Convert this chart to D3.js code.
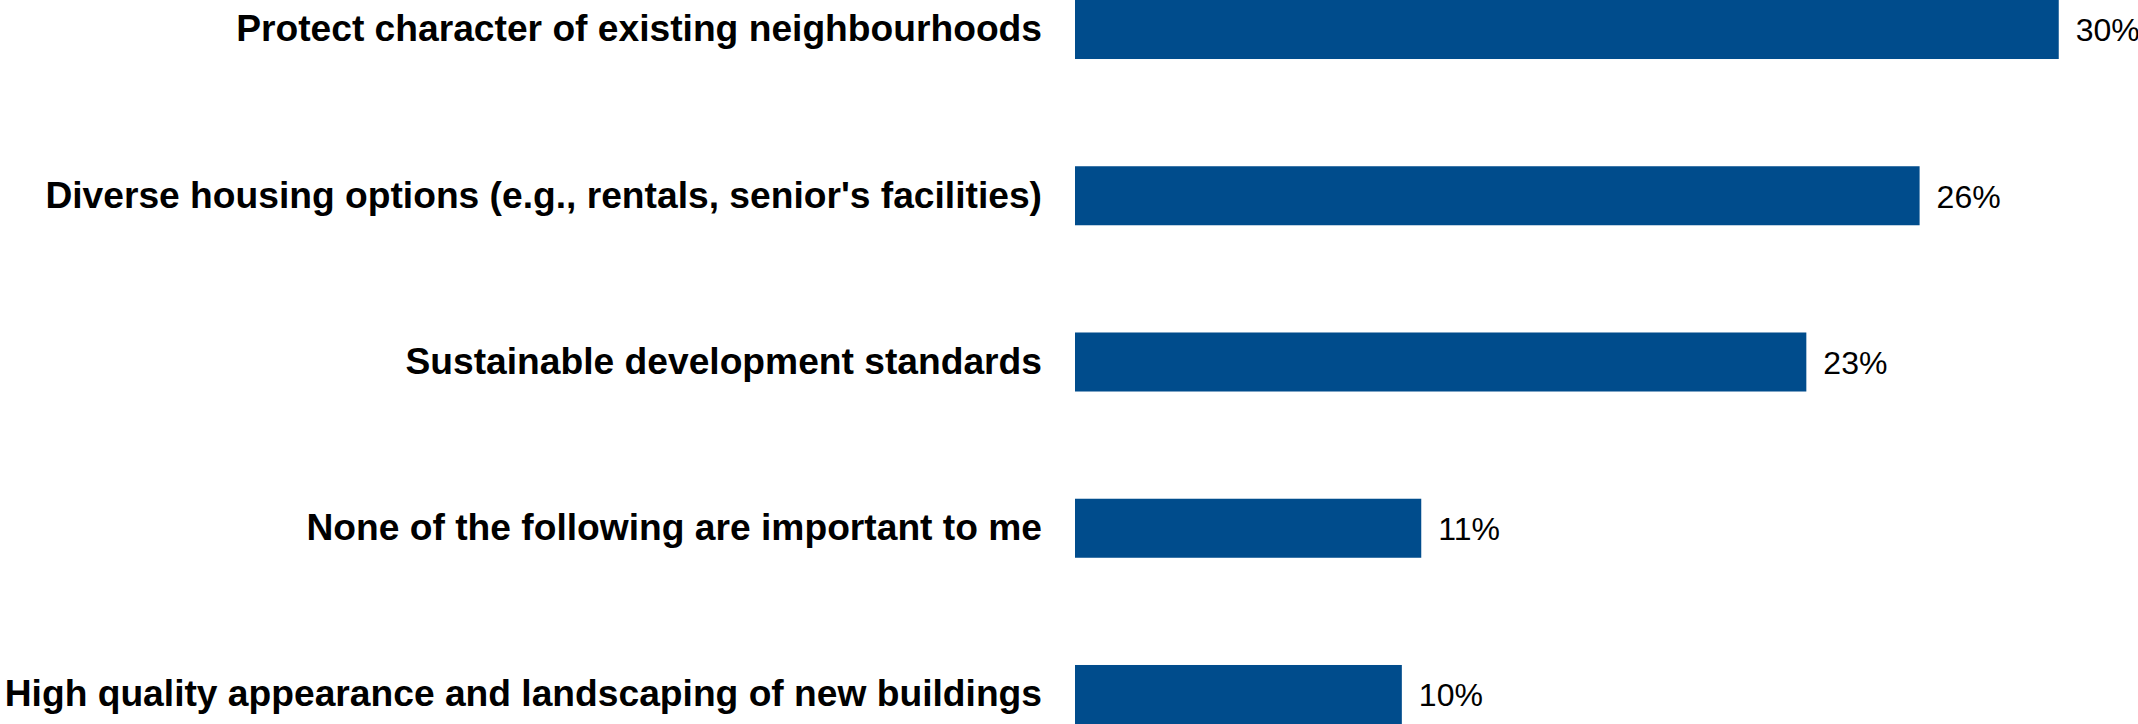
<!DOCTYPE html>
<html>
<head>
<meta charset="utf-8">
<script src="https://cdn.jsdelivr.net/npm/d3@7"></script>
<style>
  html, body { margin: 0; padding: 0; background: #fff; }
  svg { display: block; }
</style>
</head>
<body>
<script>
const categories = [
  "Protect character of existing neighbourhoods",
  "Diverse housing options (e.g., rentals, senior's facilities)",
  "Sustainable development standards",
  "None of the following are important to me",
  "High quality appearance and landscaping of new buildings"
];
const values = [30.4, 26.1, 22.6, 10.7, 10.1];
const valueLabels = ["30%", "26%", "23%", "11%", "10%"];

const W = 2138, H = 724;
const svg = d3.select("body").append("svg").attr("width", W).attr("height", H);

const x = d3.scaleLinear().domain([0, 35]).range([1075, 1075 + 35 * 32.36]);
const y = d3.scaleBand().domain(categories).range([0, H]).paddingInner(0.645).paddingOuter(0);

const data = categories.map((c, i) => ({ c, v: values[i], l: valueLabels[i] }));

svg.selectAll("rect.bar").data(data).enter().append("rect")
  .attr("class", "bar")
  .attr("x", x(0))
  .attr("y", d => y(d.c))
  .attr("width", d => x(d.v) - x(0))
  .attr("height", y.bandwidth())
  .attr("fill", "#004C8C");

svg.selectAll("text.cat").data(data).enter().append("text")
  .attr("class", "cat")
  .attr("x", 1042)
  .attr("y", d => y(d.c) + y.bandwidth() / 2)
  .attr("dy", "0.32em")
  .attr("text-anchor", "end")
  .attr("font-family", "Liberation Sans, Arial, sans-serif")
  .attr("font-weight", "bold")
  .attr("font-size", 37.2)
  .attr("fill", "#000")
  .text(d => d.c);

svg.selectAll("text.val").data(data).enter().append("text")
  .attr("class", "val")
  .attr("x", d => x(d.v) + 17)
  .attr("y", d => y(d.c) + y.bandwidth() / 2)
  .attr("dy", "0.37em")
  .attr("font-family", "Liberation Sans, Arial, sans-serif")
  .attr("font-size", 32)
  .attr("fill", "#000")
  .text(d => d.l);
</script>
</body>
</html>
